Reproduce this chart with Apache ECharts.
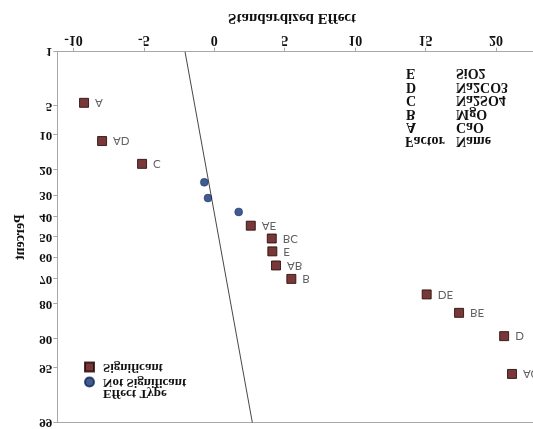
<!DOCTYPE html>
<html>
<head>
<meta charset="utf-8">
<script src="https://cdn.jsdelivr.net/npm/echarts@6/dist/echarts.min.js"></script>
<style>
html,body{margin:0;padding:0;background:#fff;overflow:hidden;}
#c{width:533px;height:429px;transform:scaleY(-1);}
</style>
</head>
<body>
<div id="c"></div>
<script>
// ---- data ----
var xTicks = [-10, -5, 0, 5, 10, 15, 20];
var percentTicks = [1, 5, 10, 20, 30, 40, 50, 60, 70, 80, 90, 95, 99];

var sigNames    = ['A', 'AD', 'C', 'AE', 'BC', 'E', 'AB', 'B', 'DE', 'BE', 'D', 'AC'];
var sigEffects  = [-9.25, -7.97, -5.13, 2.59, 4.08, 4.12, 4.38, 5.47, 15.08, 17.38, 20.58, 21.14];
var sigPercents = [4.6, 11.4, 17.9, 44.3, 50.7, 57.1, 63.9, 70.0, 76.4, 82.9, 89.3, 95.7];

var notSigEffects  = [-0.71, -0.45, 1.73];
var notSigPercents = [24.6, 31.2, 37.6];

var lineEffects  = [-2.08, 2.70];
var linePercents = [1, 99];

var factorLetters = ['A', 'B', 'C', 'D', 'E'];
var factorNames   = ['CaO', 'MgO', 'Na2SO4', 'Na2CO3', 'SiO2'];

// ---- normal probability scale ----
function invNorm(p) {
  var a = [-3.969683028665376e+01, 2.209460984245205e+02, -2.759285104469687e+02, 1.383577518672690e+02, -3.066479806614716e+01, 2.506628277459239e+00];
  var b = [-5.447609879822406e+01, 1.615858368580409e+02, -1.556989798598866e+02, 6.680131188771972e+01, -1.328068155288572e+01];
  var c = [-7.784894002430293e-03, -3.223964580411365e-01, -2.400758277161838e+00, -2.549732539343734e+00, 4.374664141464968e+00, 2.938163982698783e+00];
  var d = [7.784695709041462e-03, 3.224671290700398e-01, 2.445134137142996e+00, 3.754408661907416e+00];
  var pl = 0.02425, q, r;
  if (p < pl) {
    q = Math.sqrt(-2 * Math.log(p));
    return (((((c[0]*q+c[1])*q+c[2])*q+c[3])*q+c[4])*q+c[5]) / ((((d[0]*q+d[1])*q+d[2])*q+d[3])*q+1);
  } else if (p <= 1 - pl) {
    q = p - 0.5; r = q*q;
    return (((((a[0]*r+a[1])*r+a[2])*r+a[3])*r+a[4])*r+a[5])*q / (((((b[0]*r+b[1])*r+b[2])*r+b[3])*r+b[4])*r+1);
  } else {
    q = Math.sqrt(-2 * Math.log(1 - p));
    return -(((((c[0]*q+c[1])*q+c[2])*q+c[3])*q+c[4])*q+c[5]) / ((((d[0]*q+d[1])*q+d[2])*q+d[3])*q+1);
  }
}
function pz(pct) { return invNorm(pct / 100); }
var zTicks = percentTicks.map(pz);
function zLabel(v) {
  var best = 0, bd = 1e9;
  for (var i = 0; i < zTicks.length; i++) {
    var dd = Math.abs(zTicks[i] - v);
    if (dd < bd) { bd = dd; best = i; }
  }
  return String(percentTicks[best]);
}

var serif = 'Liberation Serif';
var ink = '#111';
var sigData = sigEffects.map(function (e, i) { return { value: [e, pz(sigPercents[i])], name: sigNames[i] }; });
var notSigData = notSigEffects.map(function (e, i) { return [e, pz(notSigPercents[i])]; });
var lineData = lineEffects.map(function (e, i) { return [e, pz(linePercents[i])]; });

function txt(x, y, s, size, align) {
  return { type: 'text', x: x, y: y, style: { text: s, fontFamily: serif, fontWeight: 'bold', fontSize: size, fill: ink, align: align || 'left', verticalAlign: 'middle' } };
}
var graphics = [
  txt(103, 35.7, 'Effect Type', 13),
  txt(405, 288.5, 'Factor', 14),
  txt(456, 288.5, 'Name', 14),
  txt(292, 411, 'Standardized Effect', 15, 'center')
];
factorLetters.forEach(function (f, i) {
  graphics.push(txt(406, 302 + 13.5 * i, f, 14));
  graphics.push(txt(456, 302 + 13.5 * i, factorNames[i], 14));
});

var axisGray = '#a8a8a8';
var chart = echarts.init(document.getElementById('c'), null, { renderer: 'canvas' });
chart.setOption({
  animation: false,
  backgroundColor: '#ffffff',
  grid: { left: 57.3, right: 0, top: 5.7, bottom: 51.7, show: false, containLabel: false },
  xAxis: [{
    type: 'value', min: -11.15, max: 22.63, position: 'bottom',
    axisLine: { show: true, onZero: false, lineStyle: { color: axisGray } },
    axisTick: { show: true, length: 4, lineStyle: { color: axisGray }, customValues: xTicks },
    axisLabel: { margin: 5, fontFamily: serif, fontWeight: 'bold', fontSize: 14, color: ink, customValues: xTicks },
    splitLine: { show: false }
  }, {
    type: 'value', min: -11.15, max: 22.63, position: 'top',
    axisLine: { show: true, onZero: false, lineStyle: { color: axisGray } },
    axisTick: { show: false }, axisLabel: { show: false }, splitLine: { show: false }
  }],
  yAxis: {
    type: 'value', min: pz(1), max: pz(99),
    name: 'Percent', nameLocation: 'middle', nameGap: 30,
    nameTextStyle: { fontFamily: serif, fontWeight: 'bold', fontSize: 14, color: ink },
    axisLine: { show: true, onZero: false, lineStyle: { color: axisGray } },
    axisTick: { show: true, length: 4, lineStyle: { color: axisGray }, customValues: zTicks },
    axisLabel: { margin: 5, fontFamily: serif, fontWeight: 'bold', fontSize: 13, color: ink, customValues: zTicks, formatter: zLabel },
    splitLine: { show: false }
  },
  legend: {
    orient: 'vertical', left: 79, top: 34.5, itemGap: 0, itemWidth: 9, itemHeight: 9,
    data: ['Not Significant', 'Significant'],
    textStyle: { fontFamily: serif, fontWeight: 'bold', fontSize: 13, color: ink, lineHeight: 15, padding: [0, 0, 0, 4] }
  },
  graphic: graphics,
  series: [
    {
      name: 'line', type: 'line', data: lineData, symbol: 'none', silent: true,
      lineStyle: { color: '#4e4444', width: 1 }, z: 1
    },
    {
      name: 'Not Significant', type: 'scatter', data: notSigData, symbol: 'circle', symbolSize: 8,
      itemStyle: { color: '#123275', borderColor: '#0c2558', borderWidth: 0.5 }, z: 3
    },
    {
      name: 'Significant', type: 'scatter', data: sigData, symbol: 'rect', symbolSize: 9,
      itemStyle: { color: '#560606', borderColor: '#220202', borderWidth: 1 },
      label: { show: true, position: 'right', distance: 6, formatter: function (p) { return p.name; },
               fontFamily: 'Lato', fontSize: 11.5, color: '#3a3a3a' }, z: 3
    }
  ]
});
</script>
</body>
</html>
